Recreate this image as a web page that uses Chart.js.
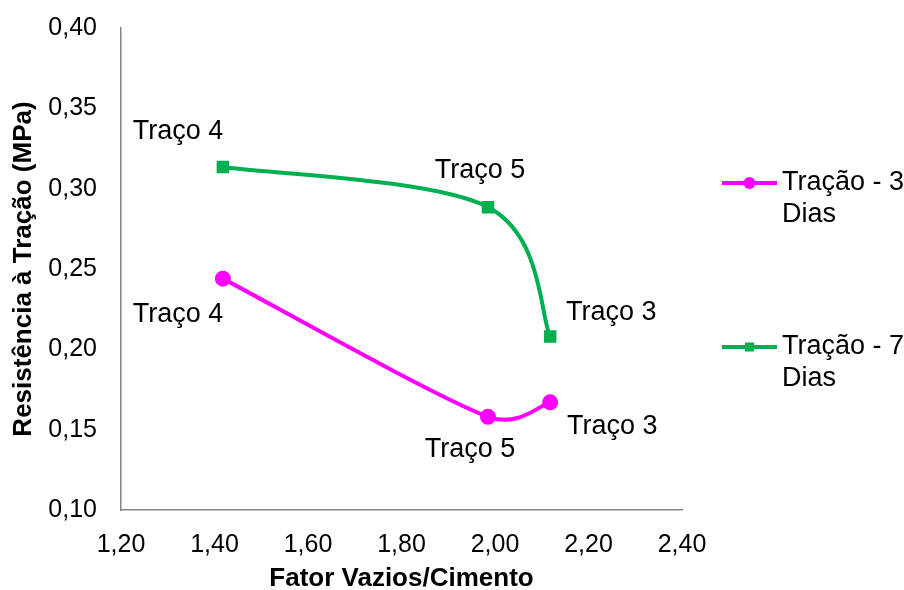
<!DOCTYPE html>
<html>
<head>
<meta charset="utf-8">
<script src="https://cdn.jsdelivr.net/npm/chart.js@4.4.1/dist/chart.umd.min.js"></script>
<style>
  html, body { margin: 0; padding: 0; background: #fff; }
  #wrap { width: 904px; height: 590px; }
</style>
</head>
<body>
<div id="wrap"><canvas id="myChart" width="904" height="590"></canvas></div>
<script>
// data
const fatorVC = [1.418, 1.985, 2.118];
const tracao3 = [0.244, 0.158, 0.167];
const tracao7 = [0.3135, 0.2885, 0.208];
const pointNames = ['Traço 4', 'Traço 5', 'Traço 3'];
const seriesNames = ['Tração - 3 Dias', 'Tração - 7 Dias'];
const xTitle = 'Fator Vazios/Cimento';
const yTitle = 'Resistência à Tração (MPa)';

const FONT = "'Liberation Sans', Arial, sans-serif";
const colors = ['#FF00FF', '#00B050'];

// label offsets (px) from each point, per series
const labelOffsets = [
  [[-45, 36], [-18, 33], [62, 24]],
  [[-45, -35], [-8, -37], [61, -24]]
];

function toXY(xs, ys) {
  return xs.map((x, i) => ({ x: x, y: ys[i] }));
}

// excel-like smoothing: 1/6 handles, capped at half the segment
const excelSmooth = {
  id: 'excelSmooth',
  beforeDatasetDraw(chart, args) {
    const meta = args.meta;
    meta.dataset.updateControlPoints(chart.chartArea, 'x');
    const pts = meta.data;
    const dist = (a, b) => Math.hypot(b.x - a.x, b.y - a.y);
    for (let i = 0; i < pts.length; i++) {
      const p = pts[i];
      const prev = pts[i - 1] || p;
      const next = pts[i + 1] || p;
      let dx = (next.x - prev.x) / 6;
      let dy = (next.y - prev.y) / 6;
      const len = Math.hypot(dx, dy) || 1;
      const kb = Math.min(1, dist(prev, p) / 2 / len);
      const kf = Math.min(1, dist(p, next) / 2 / len);
      p.cp1x = p.x - dx * kb; p.cp1y = p.y - dy * kb;
      p.cp2x = p.x + dx * kf; p.cp2y = p.y + dy * kf;
    }
    meta.dataset._path = undefined;
  }
};

const pointLabelPlugin = {
  id: 'pointLabels',
  afterDatasetsDraw(chart) {
    const ctx = chart.ctx;
    ctx.save();
    ctx.font = '27px ' + FONT;
    ctx.fillStyle = '#000';
    ctx.textAlign = 'center';
    ctx.textBaseline = 'middle';
    chart.data.datasets.forEach((ds, di) => {
      chart.getDatasetMeta(di).data.forEach((pt, i) => {
        const off = labelOffsets[di][i];
        ctx.fillText(pointNames[i], pt.x + off[0], pt.y + off[1]);
      });
    });
    ctx.restore();
  }
};

const sideLegend = {
  id: 'sideLegend',
  afterDraw(chart) {
    const ctx = chart.ctx;
    const rows = [183, 347];
    ctx.save();
    ctx.font = '27px ' + FONT;
    ctx.textBaseline = 'middle';
    chart.data.datasets.forEach((ds, di) => {
      const y = rows[di];
      ctx.strokeStyle = colors[di];
      ctx.fillStyle = colors[di];
      ctx.lineWidth = 4;
      ctx.beginPath();
      ctx.moveTo(722, y);
      ctx.lineTo(777, y);
      ctx.stroke();
      if (di === 0) {
        ctx.beginPath();
        ctx.arc(749.5, y, 6, 0, Math.PI * 2);
        ctx.fill();
      } else {
        ctx.fillRect(745, y - 4.5, 9, 9);
      }
      // wrap name at 130px
      const words = ds.label.split(' ');
      let lines = [], cur = '';
      words.forEach(w => {
        const t = cur ? cur + ' ' + w : w;
        if (ctx.measureText(t).width > 130 && cur) { lines.push(cur); cur = w; }
        else cur = t;
      });
      lines.push(cur);
      ctx.fillStyle = '#000';
      lines.forEach((ln, k) => ctx.fillText(ln, 782, y + k * 32));
    });
    ctx.restore();
  }
};

const fmt = v => v.toFixed(2).replace('.', ',');

new Chart(document.getElementById('myChart').getContext('2d'), {
  type: 'line',
  data: {
    datasets: [
      {
        label: seriesNames[0],
        data: toXY(fatorVC, tracao3),
        borderColor: colors[0],
        backgroundColor: colors[0],
        borderWidth: 4,
        pointStyle: 'circle',
        pointRadius: 6,
        tension: 0.4
      },
      {
        label: seriesNames[1],
        data: toXY(fatorVC, tracao7),
        borderColor: colors[1],
        backgroundColor: colors[1],
        borderWidth: 4,
        pointStyle: 'rect',
        pointRadius: 6,
        tension: 0.4
      }
    ]
  },
  options: {
    responsive: false,
    animation: false,
    layout: { padding: { left: 0, top: 28, right: 222, bottom: 0 } },
    plugins: {
      legend: { display: false },
      tooltip: { enabled: false }
    },
    scales: {
      x: {
        type: 'linear',
        min: 1.2,
        max: 2.4,
        afterFit(scale) { scale.height = 80; },
        grid: { display: false, drawTicks: false },
        border: { color: '#868686', width: 1.5 },
        ticks: {
          stepSize: 0.2,
          padding: 20,
          color: '#000',
          font: { family: FONT, size: 25 },
          callback: v => fmt(v)
        },
        title: {
          display: true,
          text: xTitle,
          color: '#000',
          font: { family: FONT, size: 26, weight: 'bold', lineHeight: 0.8 },
          padding: { top: 0, bottom: 1 }
        }
      },
      y: {
        min: 0.1,
        max: 0.4,
        afterFit(scale) {
          scale.width = 121;
          scale.paddingTop = 10;
          scale.paddingBottom = 10;
        },
        grid: { display: false, drawTicks: false },
        border: { color: '#868686', width: 1.5 },
        ticks: {
          stepSize: 0.05,
          padding: 24,
          color: '#000',
          font: { family: FONT, size: 25 },
          callback: v => fmt(v)
        },
        title: {
          display: true,
          text: yTitle,
          color: '#000',
          font: { family: FONT, size: 26, weight: 'bold', lineHeight: 1 },
          padding: { top: 11, bottom: 0 }
        }
      }
    }
  },
  plugins: [excelSmooth, pointLabelPlugin, sideLegend]
});
</script>
</body>
</html>
